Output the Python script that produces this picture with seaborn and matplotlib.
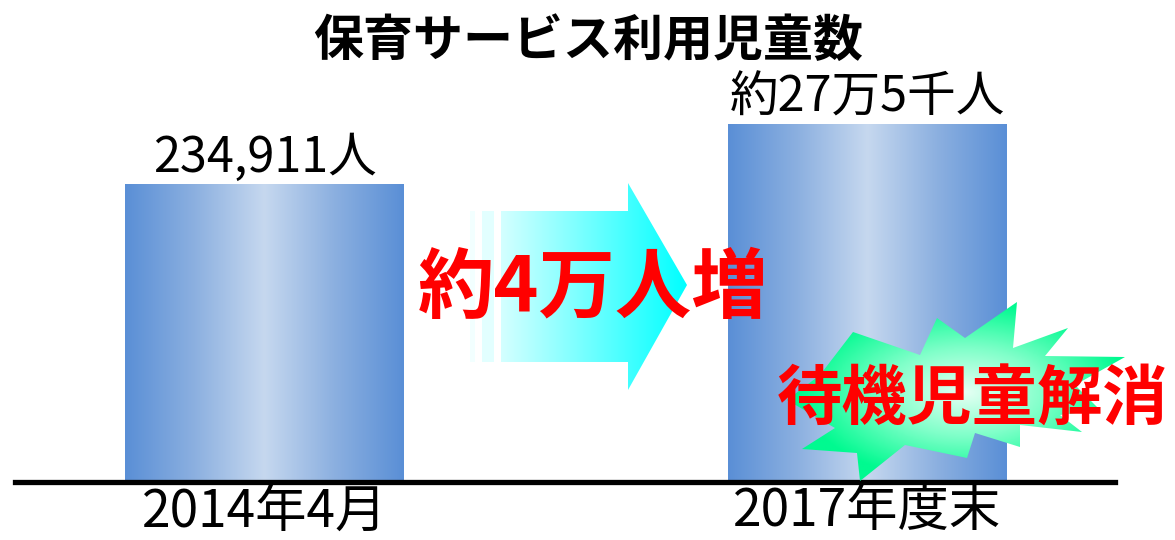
import numpy as np
import matplotlib
matplotlib.use("Agg")
import matplotlib.pyplot as plt
import seaborn as sns
from matplotlib.patches import Polygon, Rectangle
from matplotlib.colors import LinearSegmentedColormap

# ---- data ----
periods = ["2014年4月", "2017年度末"]
children = [234911, 275000]
bar_labels = ["234,911人", "約27万5千人"]
title = "保育サービス利用児童数"
increase_text = "約4万人増"
burst_text = "待機児童解消"

sns.set_theme(style="white")
plt.rcParams["font.family"] = ["Noto Sans CJK JP", "DejaVu Sans"]

W, H = 1175, 540
fig = plt.figure(figsize=(W / 100, H / 100), dpi=100)
fig.patch.set_facecolor("white")

# main axes (pixel layout)
ax_left, ax_right, ax_bottom, ax_top = 15, 1115, 482, 80
ax = fig.add_axes([ax_left / W, 1 - ax_bottom / H,
                   (ax_right - ax_left) / W, (ax_bottom - ax_top) / H])

sns.barplot(x=periods, y=children, ax=ax, width=0.463, color="#8fb2e0",
            saturation=1, zorder=2)

ymin, ymax = 35806, 304398
xmin, xmax = -0.414, 1.4116

bar_cmap = LinearSegmentedColormap.from_list(
    "bar", ["#5a8fd6", "#8cb0e0", "#c6d8ef", "#8cb0e0", "#5a8fd6"])
grad = np.linspace(0, 1, 256).reshape(1, -1)
for p in ax.patches:
    x0, w, h = p.get_x(), p.get_width(), p.get_height()
    im = ax.imshow(grad, cmap=bar_cmap, extent=(x0, x0 + w, ymin, h),
                   aspect="auto", zorder=3, interpolation="bicubic")
    im.set_clip_path(p)
    p.set_facecolor("none")
    p.set_edgecolor("none")

ax.set_xlim(xmin, xmax)
ax.set_ylim(ymin, ymax)

ax.bar_label(ax.containers[0], labels=bar_labels, padding=1, fontsize=35,
             color="black", zorder=5)

ax.set_yticks([])
ax.set_ylabel("")
ax.set_xlabel("")
for s in ["left", "right", "top"]:
    ax.spines[s].set_visible(False)
ax.spines["bottom"].set_linewidth(3.8)
ax.spines["bottom"].set_color("black")
ax.spines["bottom"].set_zorder(6)
ax.tick_params(axis="x", length=0, pad=2, labelsize=37, colors="black")
ax.patch.set_alpha(0)

# ---- decorations overlay (pixel coordinates) ----
ov = fig.add_axes([0, 0, 1, 1], zorder=5)
ov.set_xlim(0, W)
ov.set_ylim(H, 0)
ov.axis("off")
ov.patch.set_alpha(0)

# title
ov.text(588, 41, title, ha="center", va="center", fontsize=36,
        fontweight="bold", color="black")

# arrow
arrow_pts = [(501, 211), (628, 211), (628, 183), (687, 285),
             (628, 390), (628, 362), (501, 362)]
arrow = Polygon(arrow_pts, closed=True, facecolor="none", edgecolor="none")
ov.add_patch(arrow)
arrow_cmap = LinearSegmentedColormap.from_list("arr", ["#d4ffff", "#00ffff"])
aim = ov.imshow(grad, cmap=arrow_cmap, extent=(501, 687, 390, 183),
                aspect="auto", zorder=2)
aim.set_clip_path(arrow)
ov.add_patch(Rectangle((470, 211), 5, 151, facecolor="#f2ffff",
                       edgecolor="none", zorder=2))
ov.add_patch(Rectangle((482, 211), 12, 151, facecolor="#e2ffff",
                       edgecolor="none", zorder=2))

ov.text(593, 289, increase_text, ha="center", va="center", fontsize=55,
        fontweight="bold", color="#ff0000", zorder=6)

# starburst
burst_pts = [(1017, 302), (1013, 348), (1068, 328), (1045, 356),
             (1125, 357), (1075, 385), (1100, 410), (1060, 415),
             (1082, 432), (1020, 425), (1020, 447), (975, 433),
             (967, 458), (905, 445), (860, 481), (857, 453),
             (802, 449), (835, 428), (787, 400), (820, 375),
             (853, 332), (920, 355), (937, 318), (965, 338)]
burst = Polygon(burst_pts, closed=True, facecolor="none", edgecolor="none")
ov.add_patch(burst)
cx, cy, rx, ry = 965, 392, 165, 90
xs = np.linspace(780, 1130, 300)
ys = np.linspace(300, 485, 200)
X, Y = np.meshgrid(xs, ys)
R = np.clip(np.sqrt(((X - cx) / rx) ** 2 + ((Y - cy) / ry) ** 2), 0, 1)
burst_cmap = LinearSegmentedColormap.from_list(
    "burst", ["#e6fff4", "#7dffc8", "#00fa90"])
bim = ov.imshow(R, cmap=burst_cmap, extent=(780, 1130, 485, 300),
                aspect="auto", zorder=3, origin="upper")
bim.set_clip_path(burst)

ov.text(972, 400, burst_text, ha="center", va="center", fontsize=47,
        fontweight="bold", color="#ff0000", zorder=6)

fig.savefig("out.png", dpi=100, facecolor="white")
